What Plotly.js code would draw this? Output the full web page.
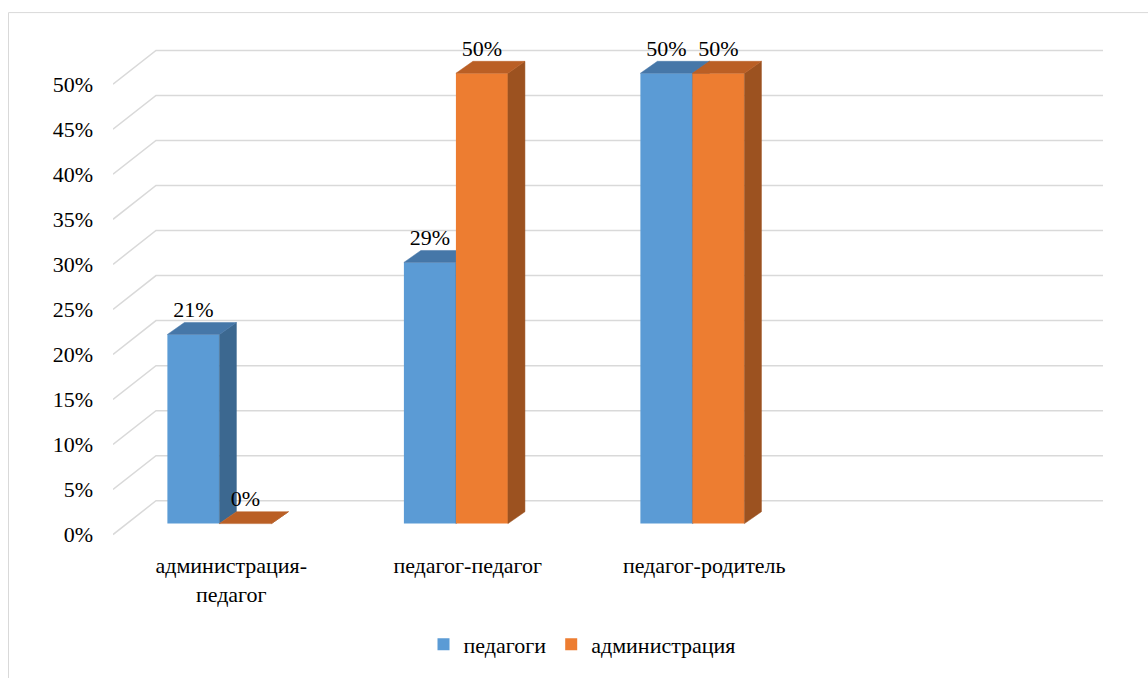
<!DOCTYPE html>
<html>
<head>
<meta charset="utf-8">
<script src="https://cdn.plot.ly/plotly-3.0.1.min.js"></script>
<style>
  html body div#chart svg.main-svg g text,
  html body div#chart svg.main-svg g text tspan { font-family: "Liberation Serif", serif !important; }
</style>
</head>
<body style="margin:0">
<div id="chart"></div>
<script>
// ---- data ----
const categories = ['администрация-педагог', 'педагог-педагог', 'педагог-родитель'];
const tickLabels = ['администрация-<br>педагог', 'педагог-педагог', 'педагог-родитель'];
const seriesNames = ['педагоги', 'администрация'];
const teachers = [0.21, 0.29, 0.50];
const administration = [0.00, 0.50, 0.50];
const yTicks = [0, 0.05, 0.10, 0.15, 0.20, 0.25, 0.30, 0.35, 0.40, 0.45, 0.50];

// ---- geometry (pixels -> axis units) ----
const W = 1148, H = 678;
const ML = 113, MR = 45, MT = 30, MB = 130;
const plotW = W - ML - MR;
const plotH = H - MT - MB;
const PX_X = 236.5;
const PX_Y = 906;
const zeroLabelPx = 537.5;
const yRange = [(zeroLabelPx - (H - MB)) / PX_Y, (zeroLabelPx - MT) / PX_Y];
const barShift = 11 / PX_Y;
const barRange = [yRange[0] - barShift, yRange[1] - barShift];
const xRange = [-0.5, -0.5 + plotW / PX_X];
const DX = 17 / PX_X, DY = 12 / PX_Y;
const wallDX = 43 / PX_X, wallDY = 34 / PX_Y;
const BW = 0.22;
const offsets = [-0.27, -0.05];
const xs = categories.map((_, i) => i);

const FONT_FAMILY = '"Liberation Serif", serif';

function seriesTraces(vals, off, cFront, cTop, cSide, name, yax) {
  const tr = [];
  tr.push({
    type: 'bar', x: xs, y: vals, offset: off, width: BW, name: name,
    marker: { color: cFront, line: { width: 0 } }, yaxis: yax, xaxis: 'x',
    hoverinfo: 'name+y', showlegend: true
  });
  vals.forEach((v, i) => {
    const xl = i + off, xr = xl + BW;
    tr.push({
      type: 'scatter', mode: 'lines', fill: 'toself', fillcolor: cSide,
      line: { color: cSide, width: 0.5 }, hoverinfo: 'skip', showlegend: false,
      x: [xr, xr + DX, xr + DX, xr, xr], y: [0, DY, v + DY, v, 0], yaxis: yax
    });
    tr.push({
      type: 'scatter', mode: 'lines', fill: 'toself', fillcolor: cTop,
      line: { color: cTop, width: 0.5 }, hoverinfo: 'skip', showlegend: false,
      x: [xl, xl + DX, xr + DX, xr, xl], y: [v, v + DY, v + DY, v, v], yaxis: yax
    });
  });
  return tr;
}

const traces = [];
traces.push(...seriesTraces(teachers, offsets[0], '#5B9BD5', '#4677A8', '#3C6890', seriesNames[0], 'y2'));
traces.push(...seriesTraces(administration, offsets[1], '#ED7D31', '#BA5F25', '#9C5220', seriesNames[1], 'y3'));

[teachers, administration].forEach((vals, s) => {
  traces.push({
    type: 'scatter', mode: 'text', yaxis: 'y3', showlegend: false, hoverinfo: 'skip',
    x: vals.map((_, i) => i + offsets[s] + BW / 2),
    y: vals.map(v => v + 23 / PX_Y),
    text: vals.map(v => Math.round(v * 100) + '%'),
    textposition: 'middle center',
    textfont: { family: FONT_FAMILY, size: 22 },
    cliponaxis: false
  });
});

const shapes = yTicks.map(t => ({
  type: 'path', xref: 'x', yref: 'y', layer: 'below',
  path: `M ${xRange[0]},${t} L ${xRange[0] + wallDX},${t + wallDY} L ${xRange[1]},${t + wallDY}`,
  line: { color: '#D9D9D9', width: 1.5 }
}));
shapes.push({
  type: 'rect', xref: 'paper', yref: 'paper', layer: 'below',
  x0: (8.5 - ML) / plotW, x1: (W + 20 - ML) / plotW,
  y0: ((H - MB) - (H + 20)) / plotH, y1: ((H - MB) - 12.5) / plotH,
  line: { color: '#D9D9D9', width: 1 }
});

const layout = {
  width: W, height: H,
  margin: { l: ML, r: MR, t: MT, b: MB, pad: 0 },
  paper_bgcolor: '#ffffff', plot_bgcolor: 'rgba(0,0,0,0)',
  font: { family: FONT_FAMILY, size: 22, color: '#000000' },
  showlegend: true,
  barmode: 'overlay',
  xaxis: {
    range: xRange, tickvals: xs, ticktext: tickLabels,
    showgrid: false, zeroline: false, showline: false, ticks: '',
    ticklabelstandoff: 5, fixedrange: true
  },
  yaxis: {
    range: yRange, tickvals: yTicks, tickformat: '.0%',
    showgrid: false, zeroline: false, showline: false, ticks: '',
    ticklabelstandoff: 19, fixedrange: true
  },
  yaxis2: { range: barRange, overlaying: 'y', visible: false, fixedrange: true },
  yaxis3: { range: barRange, overlaying: 'y', visible: false, fixedrange: true },
  legend: {
    orientation: 'h', x: (582 - ML) / plotW, xanchor: 'center',
    y: ((H - MB) - 648) / plotH, yanchor: 'middle',
    traceorder: 'normal', itemwidth: 30
  },
  shapes: shapes
};

function forceSerif() {
  document.querySelectorAll('#chart text, #chart tspan').forEach(el => {
    el.style.setProperty('font-family', FONT_FAMILY, 'important');
  });
}

Plotly.newPlot('chart', traces, layout, { displayModeBar: false }).then(gd => {
  forceSerif();
  gd.on('plotly_afterplot', forceSerif);
});
</script>
</body>
</html>
